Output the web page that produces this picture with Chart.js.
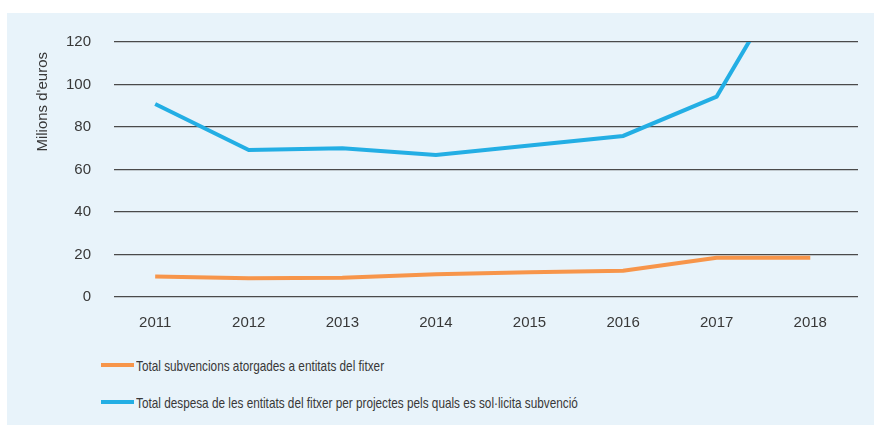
<!DOCTYPE html>
<html>
<head>
<meta charset="utf-8">
<script src="https://cdn.jsdelivr.net/npm/chart.js@4"></script>
<style>
  html, body { margin:0; padding:0; background:#ffffff; }
  body { width:874px; height:425px; position:relative; overflow:hidden; font-family:"Liberation Sans", Arial, sans-serif; }
  #panel { position:absolute; left:7px; top:13px; width:867px; height:412px; background:#e8f3fa; }
  #wrap { position:absolute; left:0; top:0; width:874px; height:340px; }
  .leg { position:absolute; left:101px; height:20px; display:flex; align-items:center; }
  .leg .sw { width:33px; height:4px; margin-right:2px; flex:none; }
  .leg .tx { font-family:"Liberation Sans", Arial, sans-serif; font-size:15px; color:#383838; white-space:nowrap;
             display:inline-block; transform:scaleX(0.785); transform-origin:0 50%; }
</style>
</head>
<body>
<div id="panel"></div>
<div id="wrap"><canvas id="c" width="874" height="340"></canvas></div>
<div id="legend"></div>
<script>
const years = [2011, 2012, 2013, 2014, 2015, 2016, 2017, 2018];
const subvencions = [9.6, 8.8, 9.1, 10.7, 11.6, 12.4, 18.5, 18.5];
const despesa = [90.8, 69.2, 70.0, 66.8, 71.3, 75.8, 94.3, 169];
const yTicks = [0, 20, 40, 60, 80, 100, 120];
const seriesLabels = [
  "Total subvencions atorgades a entitats del fitxer",
  "Total despesa de les entitats del fitxer per projectes pels quals es sol·licita subvenció"
];
const seriesColors = ["#f7954a", "#23aee4"];
const yTitle = "Milions d'euros";

const toPts = arr => arr.map((v, i) => ({ x: years[i], y: v }));

const yTitlePlugin = {
  id: 'yTitle',
  afterDraw(c) {
    const ctx = c.ctx;
    const area = c.chartArea;
    ctx.save();
    ctx.font = '15px "Liberation Sans", Arial, sans-serif';
    ctx.fillStyle = '#383838';
    ctx.textAlign = 'right';
    ctx.textBaseline = 'middle';
    ctx.translate(43, area.top + 10);
    ctx.rotate(-Math.PI / 2);
    ctx.fillText(yTitle, 0, 0);
    ctx.restore();
  }
};

const chart = new Chart(document.getElementById('c'), {
  type: 'line',
  data: {
    datasets: [
      { label: seriesLabels[0], data: toPts(subvencions), borderColor: seriesColors[0], backgroundColor: seriesColors[0],
        borderWidth: 4, pointRadius: 0, tension: 0, clip: 0, borderJoinStyle: 'round' },
      { label: seriesLabels[1], data: toPts(despesa), borderColor: seriesColors[1], backgroundColor: seriesColors[1],
        borderWidth: 4, pointRadius: 0, tension: 0, clip: 0, borderJoinStyle: 'miter' }
    ]
  },
  options: {
    responsive: false,
    animation: false,
    devicePixelRatio: 1,
    layout: { padding: { left: 30, top: 42, right: 16, bottom: 0 } },
    plugins: { legend: { display: false }, tooltip: { enabled: false } },
    scales: {
      x: {
        type: 'linear',
        min: 2010.56,
        max: 2018.51,
        afterBuildTicks: s => { s.ticks = years.map(v => ({ value: v })); },
        afterFit: s => { s.height = 43; },
        grid: { display: false, drawTicks: false },
        border: { display: false },
        ticks: {
          padding: 17,
          color: '#383838',
          font: { family: '"Liberation Sans", Arial, sans-serif', size: 15 },
          callback: v => String(v),
          maxRotation: 0
        }
      },
      y: {
        min: 0,
        max: 120,
        afterBuildTicks: s => { s.ticks = yTicks.map(v => ({ value: v })); },
        afterFit: s => { s.width = 84; },
        grid: { color: '#4a4a4a', lineWidth: 1.3, drawTicks: false },
        border: { display: false },
        ticks: {
          padding: 23,
          color: '#383838',
          font: { family: '"Liberation Sans", Arial, sans-serif', size: 15 }
        },
        title: { display: false, text: yTitle }
      }
    }
  },
  plugins: [yTitlePlugin]
});

const legend = document.getElementById('legend');
const legTops = [355, 392];
chart.data.datasets.forEach((ds, i) => {
  const row = document.createElement('div');
  row.className = 'leg';
  row.style.top = legTops[i] + 'px';
  const sw = document.createElement('span');
  sw.className = 'sw';
  sw.style.background = ds.borderColor;
  const tx = document.createElement('span');
  tx.className = 'tx';
  tx.textContent = ds.label;
  row.appendChild(sw); row.appendChild(tx);
  legend.appendChild(row);
});
</script>
</body>
</html>
